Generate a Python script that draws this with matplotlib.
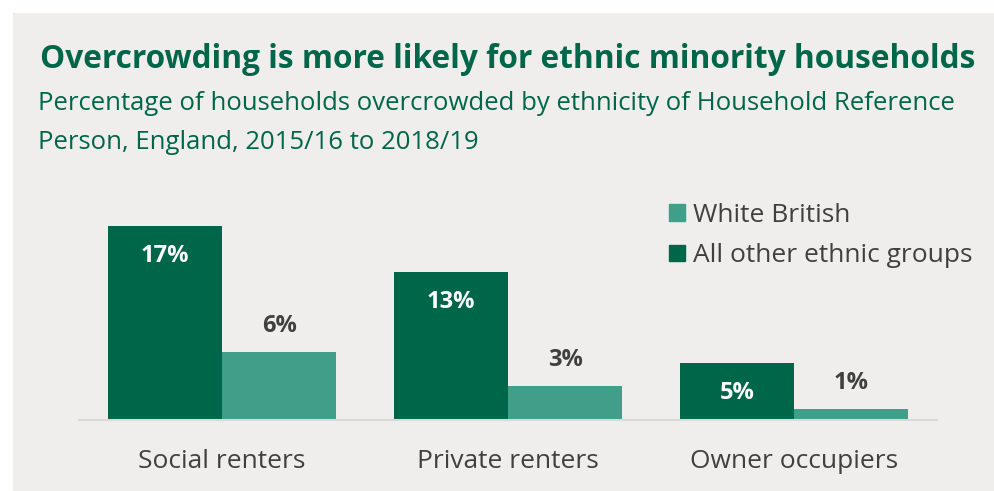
import matplotlib
matplotlib.use('Agg')
import matplotlib.pyplot as plt
from matplotlib.patches import Patch
import numpy as np

# data
categories = ['Social renters', 'Private renters', 'Owner occupiers']
other_ethnic = [17, 13, 5]
white_british = [6, 3, 1]
series_names = ['White British', 'All other ethnic groups']

DARK = '#00664a'
LIGHT = '#419e89'
BG = '#efeeed'
GREY = '#404040'

plt.rcParams['font.family'] = ['Open Sans', 'DejaVu Sans']

W, H = 995, 491
fig = plt.figure(figsize=(W / 100, H / 100), dpi=100)
fig.patch.set_facecolor('white')
# grey panel with a white margin top-left
fig.patches.append(plt.Rectangle((13 / W, 0), 1, 1 - 13 / H, transform=fig.transFigure,
                                 facecolor=BG, edgecolor='none', zorder=-10))

ax = fig.add_axes([79 / W, 71 / H, (937 - 79) / W, 228 / H])
ax.set_facecolor('none')
x = np.arange(len(categories))
bw = 0.4
b1 = ax.bar(x - bw / 2, other_ethnic, bw, color=DARK)
b2 = ax.bar(x + bw / 2, white_british, bw, color=LIGHT)
ax.set_xlim(-0.5, len(categories) - 0.5)
ax.set_ylim(0, 20)

for r, v in zip(b1, other_ethnic):
    ax.annotate(f'{v}%', (r.get_x() + r.get_width() / 2, v), xytext=(0, -30 * 0.72),
                textcoords='offset points', ha='center', va='center',
                color='white', fontsize=17, fontweight='bold')
for r, v in zip(b2, white_british):
    ax.annotate(f'{v}%', (r.get_x() + r.get_width() / 2, v), xytext=(0, 26 * 0.72),
                textcoords='offset points', ha='center', va='center',
                color=GREY, fontsize=17, fontweight='bold')

for s in ['top', 'right', 'left']:
    ax.spines[s].set_visible(False)
ax.spines['bottom'].set_color('#d9d9d9')
ax.spines['bottom'].set_linewidth(1.5)
ax.set_yticks([])
ax.set_xticks(x)
ax.set_xticklabels(categories, fontsize=19, color=GREY)
ax.tick_params(axis='x', length=0, pad=21)

handles = [Patch(color=LIGHT), Patch(color=DARK)]
ax.legend(handles, series_names, loc='upper left', bbox_to_anchor=(669 / W, 1 - 203 / H),
          bbox_transform=fig.transFigure, frameon=False, fontsize=19,
          labelcolor=GREY, handlelength=0.6, handleheight=0.6,
          handletextpad=0.3, labelspacing=0.58, borderpad=0, borderaxespad=0)

fig.text(40 / W, 1 - 68 / H, 'Overcrowding is more likely for ethnic minority households',
         fontsize=22.8, fontweight='bold', color=DARK, va='baseline', ha='left')
fig.text(38 / W, 1 - 110 / H,
         'Percentage of households overcrowded by ethnicity of Household Reference',
         fontsize=18.5, color=DARK, va='baseline', ha='left')
fig.text(38 / W, 1 - 149 / H, 'Person, England, 2015/16 to 2018/19',
         fontsize=18.5, color=DARK, va='baseline', ha='left')

fig.savefig('out.png', dpi=100, facecolor=fig.get_facecolor())
